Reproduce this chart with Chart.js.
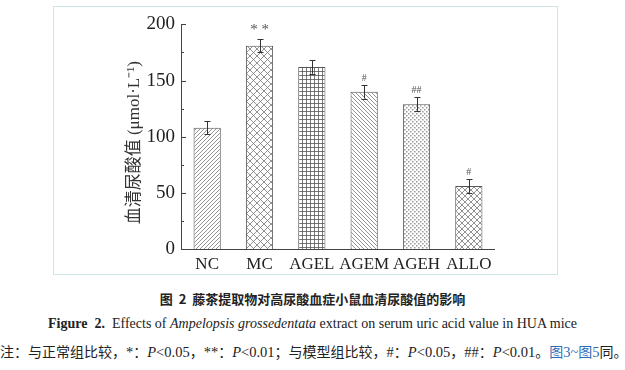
<!DOCTYPE html>
<html lang="zh">
<head>
<meta charset="UTF-8">
<title>Figure 2</title>
<script src="https://cdn.jsdelivr.net/npm/chart.js"></script>
<style>
    body { margin: 0; background: #fff; width: 625px; height: 370px; position: relative; overflow: hidden; }
    #box { position: absolute; left: 53px; top: 6px; width: 503px; height: 267px; border: 1px solid #cfe6e6; }
    #myChart { position: absolute; left: 0; top: 0; }
    .cap { position: absolute; left: 0; width: 625px; text-align: center; white-space: nowrap; color: #222; }
    #cap1 { top: 289px; font: bold 13px "Noto Sans CJK SC", sans-serif; }
    #cap2 { top: 316px; font: 14px "Liberation Serif", serif; }
    #cap3 { top: 341px; left: 0; text-align: left; font: 14.5px "Liberation Serif", "Noto Sans CJK SC", serif; }
    .zh { font-family: "Noto Sans CJK SC", sans-serif; font-size: 14px; }
    .blue { color: #2b6cb8; }
</style>
</head>
<body>
<div id="box"><canvas id="myChart" width="503" height="267"></canvas></div>

<div class="cap" id="cap1">图&nbsp;&nbsp;2&nbsp;&nbsp;藤茶提取物对高尿酸血症小鼠血清尿酸值的影响</div>
<div class="cap" id="cap2"><b>Figure&nbsp;&nbsp;2.</b>&nbsp;&nbsp;Effects of <i>Ampelopsis grossedentata</i> extract on serum uric acid value in HUA mice</div>
<div class="cap" id="cap3"><span class="zh">注：与正常组比较，</span>*<span class="zh">：</span><i>P</i>&lt;0.05<span class="zh">，</span>**<span class="zh">：</span><i>P</i>&lt;0.01<span class="zh">；与模型组比较，</span>#<span class="zh">：</span><i>P</i>&lt;0.05<span class="zh">，</span>##<span class="zh">：</span><i>P</i>&lt;0.01<span class="zh">。</span><span class="blue"><span class="zh">图</span>3~<span class="zh">图</span>5</span><span class="zh">同。</span></div>

<script>
    const groups = ["NC", "MC", "AGEL", "AGEM", "AGEH", "ALLO"];
    const uricAcid = [108, 181, 162, 140, 129, 56];
    const errors = [6, 6, 6, 6, 6, 6];
    const marks = ["", "**", "", "#", "##", "#"];
    const patternTypes = ["slash", "diamond", "grid", "back", "dots", "cross"];
    const yTicks = [0, 50, 100, 150, 200];
    const yMinorTicks = [25, 75, 125, 175];
    const yTitle = "血清尿酸值 (μmol·L⁻¹)";

    function makePattern(type) {
        const s = type === "diamond" ? 7 : (type === "cross" ? 6 : 4);
        const c = document.createElement("canvas");
        c.width = s; c.height = s;
        const g = c.getContext("2d");
        g.fillStyle = "#fff";
        g.fillRect(0, 0, s, s);
        g.strokeStyle = "#777";
        g.lineWidth = 0.8;
        g.beginPath();
        if (type === "slash" || type === "diamond" || type === "cross") {
            g.moveTo(-1, s + 1); g.lineTo(s + 1, -1);
            g.moveTo(-1, 1); g.lineTo(1, -1);
            g.moveTo(s - 1, s + 1); g.lineTo(s + 1, s - 1);
        }
        if (type === "back" || type === "diamond" || type === "cross") {
            g.moveTo(-1, -1); g.lineTo(s + 1, s + 1);
            g.moveTo(s - 1, -1); g.lineTo(s + 1, 1);
            g.moveTo(-1, s - 1); g.lineTo(1, s + 1);
        }
        if (type === "grid") {
            g.strokeStyle = "#555";
            g.moveTo(0.5, 0); g.lineTo(0.5, s);
            g.moveTo(0, 0.5); g.lineTo(s, 0.5);
        }
        g.stroke();
        if (type === "dots") {
            g.fillStyle = "#999";
            g.fillRect(0, 0, 1.5, 1.5);
            g.fillRect(2, 2, 1.5, 1.5);
        }
        return g.createPattern(c, "repeat");
    }

    const extras = {
        id: "extras",
        afterDatasetsDraw(chart) {
            const ctx = chart.ctx;
            const area = chart.chartArea;
            const x = chart.scales.x;
            const y = chart.scales.y;
            ctx.save();
            ctx.strokeStyle = "#444";
            ctx.lineWidth = 1;

            // axes
            ctx.beginPath();
            ctx.moveTo(area.left + 0.5, y.getPixelForValue(200));
            ctx.lineTo(area.left + 0.5, area.bottom + 0.5);
            ctx.lineTo(area.right, area.bottom + 0.5);
            yTicks.forEach(v => {
                const py = Math.round(y.getPixelForValue(v)) + 0.5;
                ctx.moveTo(area.left, py); ctx.lineTo(area.left + 5, py);
            });
            yMinorTicks.forEach(v => {
                const py = Math.round(y.getPixelForValue(v)) + 0.5;
                ctx.moveTo(area.left, py); ctx.lineTo(area.left + 3, py);
            });
            ctx.stroke();

            // error bars
            ctx.strokeStyle = "#333";
            ctx.beginPath();
            uricAcid.forEach((v, i) => {
                const px = Math.round(x.getPixelForValue(i)) + 0.5;
                const top = y.getPixelForValue(v + errors[i]);
                const bot = y.getPixelForValue(v - errors[i]);
                ctx.moveTo(px, top); ctx.lineTo(px, bot);
                ctx.moveTo(px - 3, Math.round(top) + 0.5); ctx.lineTo(px + 3, Math.round(top) + 0.5);
                ctx.moveTo(px - 3, Math.round(bot) + 0.5); ctx.lineTo(px + 3, Math.round(bot) + 0.5);
            });
            ctx.stroke();

            // significance marks
            ctx.fillStyle = "#555";
            ctx.textAlign = "center";
            ctx.textBaseline = "bottom";
            marks.forEach((m, i) => {
                if (!m) return;
                const px = x.getPixelForValue(i);
                const top = y.getPixelForValue(uricAcid[i] + errors[i]);
                if (m.indexOf("*") >= 0) {
                    ctx.font = "15px 'Liberation Serif'";
                    ctx.fillText(m.split("").join(" "), px, top - 1);
                } else {
                    ctx.font = "10px 'Liberation Serif'";
                    ctx.fillText(m, px, top - 2);
                }
            });

            // y title
            ctx.fillStyle = "#333";
            ctx.font = "17px 'Liberation Serif', 'Noto Sans CJK SC'";
            ctx.translate(81, (area.top + area.bottom) / 2 + 6);
            ctx.rotate(-Math.PI / 2);
            ctx.textBaseline = "middle";
            ctx.fillText(yTitle, 0, 0);
            ctx.restore();
        }
    };

    const myCanvas = document.getElementById("myChart");
    const myChart = new Chart(myCanvas, {
        type: "bar",
        data: {
            labels: groups,
            datasets: [{
                data: uricAcid,
                backgroundColor: patternTypes.map(makePattern),
                borderColor: "#555",
                borderWidth: 1,
                categoryPercentage: 1,
                barPercentage: 0.52
            }]
        },
        options: {
            responsive: false,
            animation: false,
            layout: { padding: { top: 10, right: 62, left: 0, bottom: 0 } },
            plugins: { legend: { display: false }, tooltip: { enabled: false } },
            scales: {
                x: {
                    grid: { display: false, drawTicks: false },
                    border: { display: false },
                    ticks: {
                        color: "#222", padding: 5, maxRotation: 0, minRotation: 0, autoSkip: false,
                        font: { family: "Liberation Serif", size: 17 }
                    },
                    afterFit: s => { s.height = 25; }
                },
                y: {
                    min: 0,
                    max: 200,
                    grid: { display: false, drawTicks: false },
                    border: { display: false },
                    afterBuildTicks: s => { s.ticks = yTicks.map(v => ({ value: v })); },
                    ticks: { color: "#222", padding: 6, font: { family: "Liberation Serif", size: 19 } },
                    afterFit: s => { s.width = 127; }
                }
            }
        },
        plugins: [extras]
    });
</script>
</body>
</html>
